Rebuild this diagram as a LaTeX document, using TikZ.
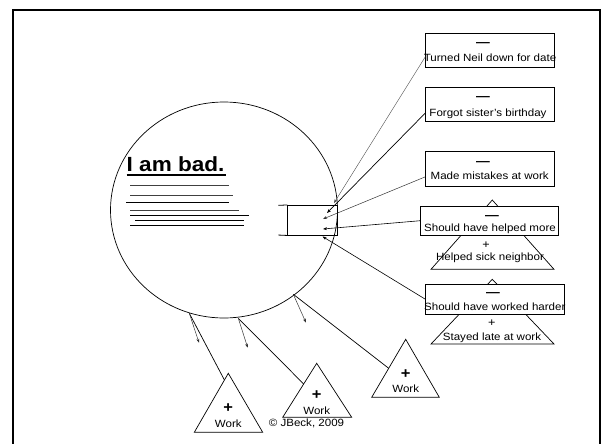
\documentclass[tikz,border=0pt]{standalone}
\usepackage{fontspec}
\setmainfont{Liberation Sans}[FakeStretch=1.1]
\usetikzlibrary{arrows.meta,shapes.geometric,calc}
\begin{document}
\begin{tikzpicture}[x=1pt,y=-1pt,
  txt/.style={inner sep=0pt, anchor=base, font=\fontsize{10.5}{12}\selectfont},
  dashtxt/.style={inner sep=0pt, anchor=base, font=\fontsize{12.5}{14}\selectfont\bfseries},
  plustxt/.style={inner sep=0pt, anchor=base, font=\fontsize{11.5}{12}\selectfont},
  bigplus/.style={inner sep=0pt, anchor=base, font=\fontsize{15}{16}\selectfont\bfseries},
  evbox/.style={draw, line width=0.7pt, fill=white, inner sep=0pt},
  tri/.style={draw, line width=0.7pt},
  conn/.style={-{Stealth[length=4pt,width=3pt]}, line width=0.5pt},
  plainln/.style={line width=0.7pt},
  thinscr/.style={line width=0.7pt, black!75},
  darkscr/.style={line width=1.1pt},
]
\useasboundingbox (0,0) rectangle (602,444);

% frame
\draw[line width=2pt] (13,444) -- (13,10) -- (600,10) -- (600,444);

% self circle
\node[draw, ellipse, line width=0.7pt, minimum width=227pt, minimum height=216pt, inner sep=0pt] (self) at (224,210) {};

% title and scribbles
\node[inner sep=0pt, anchor=base west, font=\fontsize{20.5}{22}\selectfont\bfseries] (title) at (126.5,171) {I am bad.};
\draw[line width=2.5pt] (126.5,175) -- (226,175);
\draw[thinscr] (130,185.8) -- (229,185.8);
\draw[thinscr] (130,195.7) -- (233,195.7);
\draw[darkscr] (126,202.5) -- (229,202.5);
\draw[thinscr] (130,210.5) -- (239,210.5);
\draw[plainln] (130,215) -- (248.5,215);
\draw[plainln] (135,220) -- (244,220);
\draw[plainln] (130,225.5) -- (244,225.5);

% small rectangle
\node[draw, line width=0.8pt, inner sep=0pt, minimum width=49.6pt, minimum height=29.7pt] (core) at (312.5,220.2) {};
\draw[line width=0.8pt] (278.3,205.35) -- (core.north west);
\draw[line width=0.8pt] (278.3,235.05) -- (core.south west);
\coordinate (e1) at (334,203);
\coordinate (e2) at (327,213);
\coordinate (e3) at (323,219);
\coordinate (e4) at (323,229);
\coordinate (e5) at (322.5,236.5);

% right triangles (behind boxes)
\coordinate (r1top) at (492.3,200);
\coordinate (r1l) at (431,269.3);
\coordinate (r1r) at (554,269.3);
\draw[tri] (r1top) -- (r1l) -- (r1r) -- cycle;
\coordinate (r2top) at (492.3,279.3);
\coordinate (r2l) at (431,344);
\coordinate (r2r) at (554,344);
\draw[tri] (r2top) -- (r2l) -- (r2r) -- cycle;

% boxes
\node[evbox, minimum width=128.6pt, minimum height=34.4pt] (b1) at (490,50.5) {};
\node[evbox, minimum width=128.6pt, minimum height=34.4pt] (b2) at (490,104.5) {};
\node[evbox, minimum width=128.6pt, minimum height=34.3pt] (b3) at (490,168.8) {};
\node[evbox, minimum width=138pt, minimum height=29.3pt] (b4) at (489.7,220.7) {};
\node[evbox, minimum width=138.3pt, minimum height=29.7pt] (b5) at (494.8,299.2) {};

% box texts
\node[dashtxt] (d1) at (483,46.1) {—};
\node[txt] (t1) at (490,61.5) {Turned Neil down for date};
\node[dashtxt] (d2) at (483,100.1) {—};
\node[txt] (t2) at (488,116.5) {Forgot sister’s birthday};
\node[dashtxt] (d3) at (483,165.1) {—};
\node[txt] (t3) at (489.7,179.5) {Made mistakes at work};
\node[dashtxt] (d4) at (492,219.4) {—};
\node[txt] (t4) at (490,231.8) {Should have helped more};
\node[dashtxt] (d5) at (493,296.7) {—};
\node[txt] (t5) at (494.8,310.8) {Should have worked harder};

% right triangle texts
\node[plustxt] (p1) at (486,248.4) {+};
\node[txt] (h1) at (490,260.8) {Helped sick neighbor};
\node[plustxt] (p2) at (491.7,326.8) {+};
\node[txt] (h2) at (492,340.8) {Stayed late at work};

% connectors to core
\draw[conn, black!70, line width=0.4pt] ([yshift=-6.2pt]b1.west) -- (e1);
\draw[conn, line width=0.7pt] ([yshift=-8.5pt]b2.west) -- (e2);
\draw[conn, black!80] ([yshift=-8pt]b3.west) -- (e3);
\draw[conn, line width=0.6pt] (b4.west) -- (e4);
\draw[conn, line width=0.6pt] (b5.west) -- (e5);

% bottom triangles
\coordinate (s1top) at (228.3,373.3);
\coordinate (s1l) at (194.3,432.3);
\coordinate (s1r) at (262.7,432.3);
\draw[tri] (s1top) -- (s1l) -- (s1r) -- cycle;
\coordinate (s2top) at (316.7,363.3);
\coordinate (s2l) at (282.7,417.3);
\coordinate (s2r) at (351.7,417.3);
\draw[tri] (s2top) -- (s2l) -- (s2r) -- cycle;
\coordinate (s3top) at (405.7,339.3);
\coordinate (s3l) at (371.7,397.3);
\coordinate (s3r) at (439.3,397.3);
\draw[tri] (s3top) -- (s3l) -- (s3r) -- cycle;

\node[bigplus] (q1) at (228.3,412) {+};
\node[txt] (w1) at (228.3,427.6) {Work};
\node[bigplus] (q2) at (316.7,399.3) {+};
\node[txt] (w2) at (316.7,414.3) {Work};
\node[bigplus] (q3) at (405.7,378.6) {+};
\node[txt] (w3) at (405.7,392.9) {Work};

% links from self to work triangles
\coordinate (pA) at (189.3,313.3);
\coordinate (pB) at (238.3,318.3);
\coordinate (pC) at (293.3,294.3);
\coordinate (aA) at (199,342.7);
\coordinate (aB) at (247.7,347.7);
\coordinate (aC) at (306,322.7);
\draw[plainln] (pA) -- ($(s1top)!0.114!(s1l)$);
\draw[plainln] (pB) -- ($(s2top)!0.383!(s2l)$);
\draw[plainln] (pC) -- ($(s3top)!0.5!(s3l)$);
\draw[conn, black!80] (pA) -- (aA);
\draw[conn, black!80] (pB) -- (aB);
\draw[conn, black!80] (pC) -- (aC);

% copyright
\node[txt] (copy) at (306.5,426.9) {© JBeck, 2009};
\end{tikzpicture}
\end{document}
